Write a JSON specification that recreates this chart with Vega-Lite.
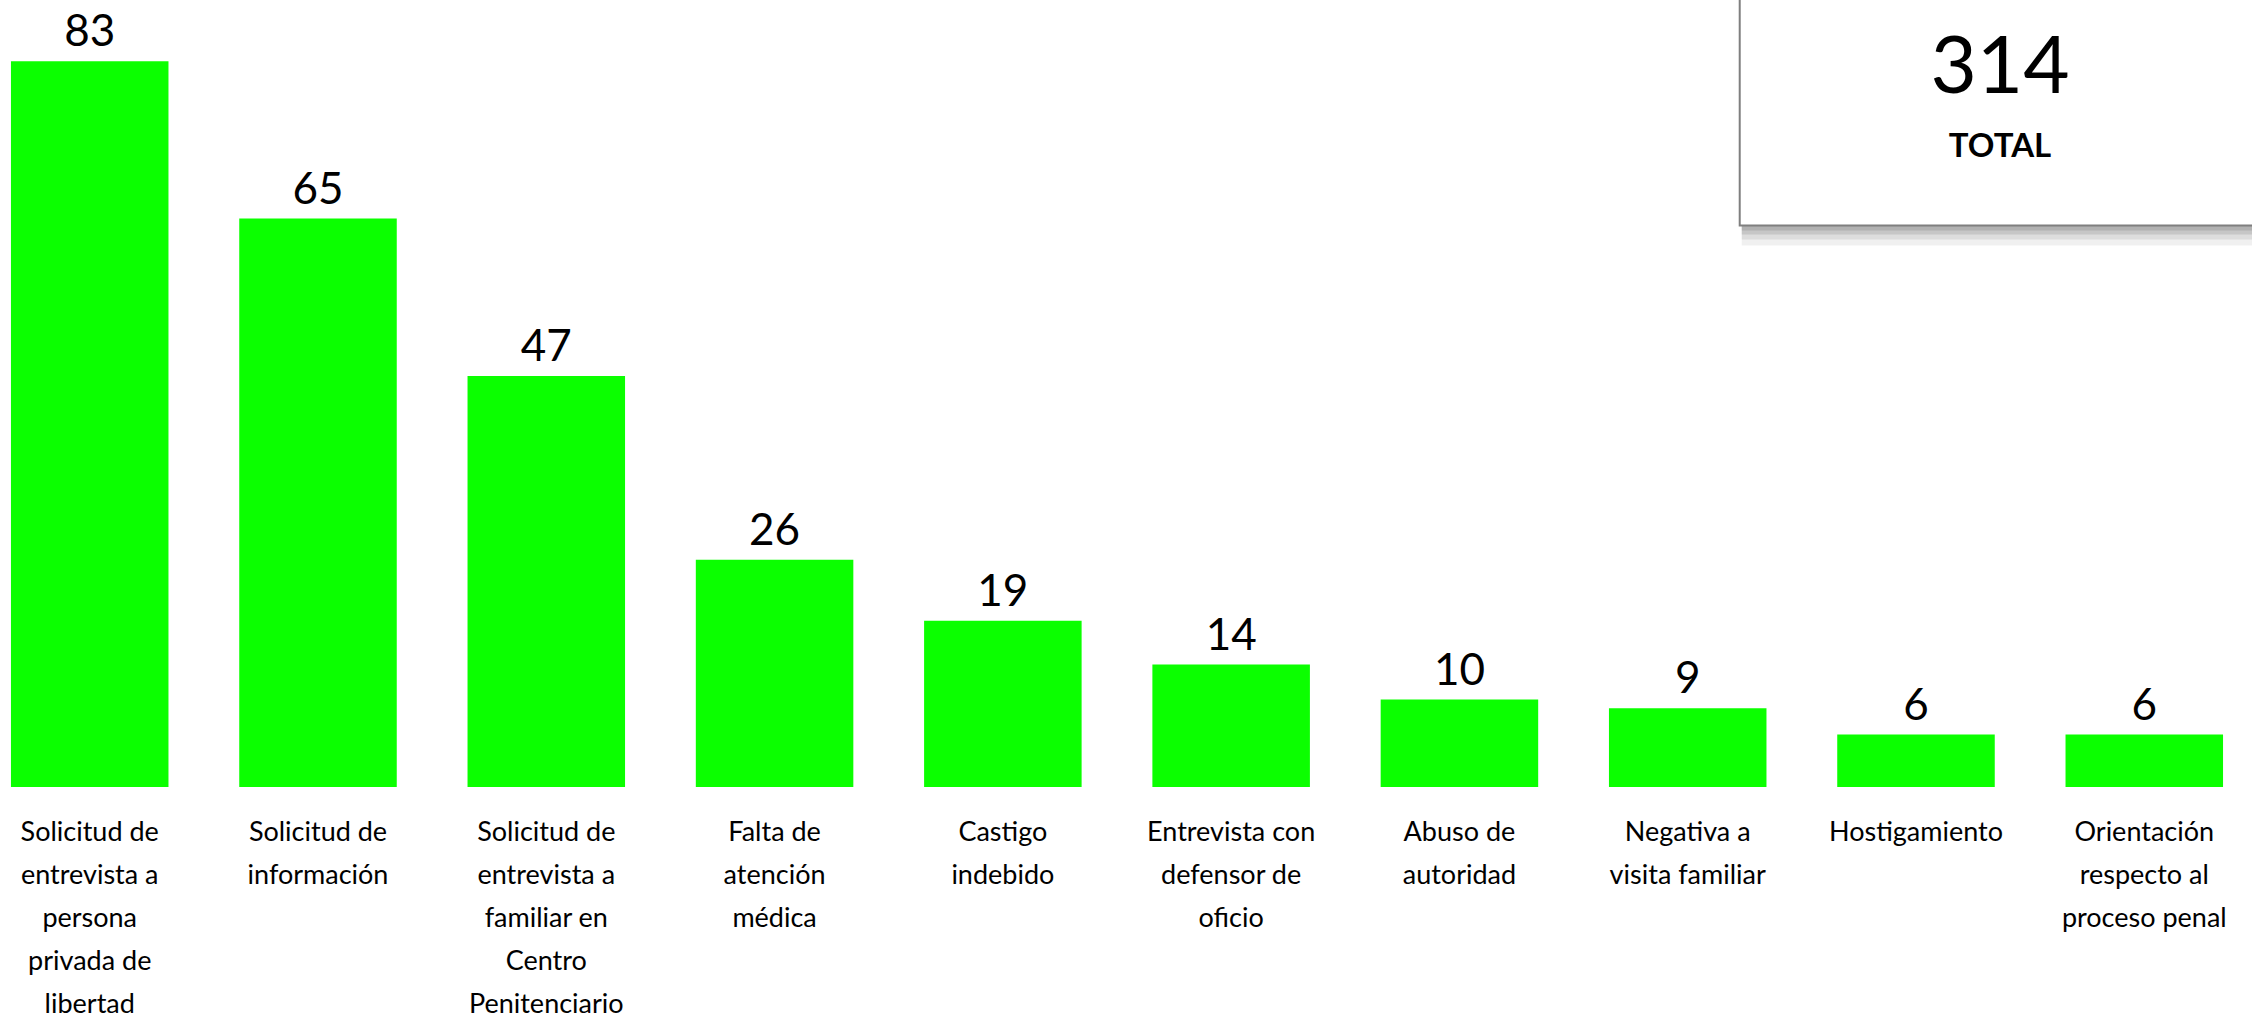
{
  "$schema": "https://vega.github.io/schema/vega-lite/v6.json",
  "autosize": {"type": "none"},
  "padding": {"left": 0, "top": 0, "right": 18, "bottom": 232},
  "width": 2234,
  "height": 787,
  "background": "white",
  "config": {"view": {"stroke": null}, "font": "Lato"},
  "datasets": {
    "quejas": [
      {"categoria": "Solicitud de\nentrevista a\npersona\nprivada de\nlibertad", "casos": 83},
      {"categoria": "Solicitud de\ninformación", "casos": 65},
      {"categoria": "Solicitud de\nentrevista a\nfamiliar en\nCentro\nPenitenciario", "casos": 47},
      {"categoria": "Falta de\natención\nmédica", "casos": 26},
      {"categoria": "Castigo\nindebido", "casos": 19},
      {"categoria": "Entrevista con\ndefensor de\noficio", "casos": 14},
      {"categoria": "Abuso de\nautoridad", "casos": 10},
      {"categoria": "Negativa a\nvisita familiar", "casos": 9},
      {"categoria": "Hostigamiento", "casos": 6},
      {"categoria": "Orientación\nrespecto al\nproceso penal", "casos": 6}
    ],
    "resumen": [{"total": 314, "etiqueta": "TOTAL"}]
  },
  "layer": [
    {
      "data": {"name": "quejas"},
      "mark": {"type": "bar", "color": "#0BFF00"},
      "encoding": {
        "x": {
          "field": "categoria", "type": "nominal", "sort": null,
          "scale": {"paddingInner": 0.31, "paddingOuter": 0.048},
          "axis": {
            "title": null, "domain": false, "ticks": false, "labelAngle": 0,
            "labelFont": "Lato", "labelFontSize": 27, "labelColor": "black",
            "labelLineHeight": 43, "labelPadding": 32, "labelBaseline": "top",
            "labelExpr": "split(datum.label, '\\n')", "labelLimit": 0
          }
        },
        "y": {
          "field": "casos", "type": "quantitative",
          "scale": {"domain": [0, 90], "nice": false},
          "axis": null
        }
      }
    },
    {
      "data": {"name": "quejas"},
      "mark": {"type": "text", "font": "Lato", "fontSize": 44, "baseline": "alphabetic", "dy": -15, "color": "black"},
      "encoding": {
        "x": {"field": "categoria", "type": "nominal", "sort": null},
        "y": {"field": "casos", "type": "quantitative"},
        "text": {"field": "casos", "type": "quantitative"}
      }
    },
    {
      "data": {"name": "resumen"},
      "mark": {"type": "rect", "color": "black", "opacity": 0.06, "y2Offset": 20, "xOffset": 54, "x2Offset": 150},
      "encoding": {
        "x": {"datum": "Negativa a\nvisita familiar", "type": "nominal"},
        "x2": {"datum": "Orientación\nrespecto al\nproceso penal"},
        "y": {"datum": 100, "type": "quantitative"},
        "y2": {"datum": 64.2}
      }
    },
    {
      "data": {"name": "resumen"},
      "mark": {"type": "rect", "color": "black", "opacity": 0.08, "y2Offset": 14, "xOffset": 54, "x2Offset": 150},
      "encoding": {
        "x": {"datum": "Negativa a\nvisita familiar", "type": "nominal"},
        "x2": {"datum": "Orientación\nrespecto al\nproceso penal"},
        "y": {"datum": 100, "type": "quantitative"},
        "y2": {"datum": 64.2}
      }
    },
    {
      "data": {"name": "resumen"},
      "mark": {"type": "rect", "color": "black", "opacity": 0.1, "y2Offset": 9, "xOffset": 54, "x2Offset": 150},
      "encoding": {
        "x": {"datum": "Negativa a\nvisita familiar", "type": "nominal"},
        "x2": {"datum": "Orientación\nrespecto al\nproceso penal"},
        "y": {"datum": 100, "type": "quantitative"},
        "y2": {"datum": 64.2}
      }
    },
    {
      "data": {"name": "resumen"},
      "mark": {"type": "rect", "color": "black", "opacity": 0.1, "y2Offset": 5, "xOffset": 54, "x2Offset": 150},
      "encoding": {
        "x": {"datum": "Negativa a\nvisita familiar", "type": "nominal"},
        "x2": {"datum": "Orientación\nrespecto al\nproceso penal"},
        "y": {"datum": 100, "type": "quantitative"},
        "y2": {"datum": 64.2}
      }
    },
    {
      "data": {"name": "resumen"},
      "mark": {"type": "rect", "fill": "white", "stroke": "#7f7f7f", "strokeWidth": 2, "xOffset": 52, "x2Offset": 150},
      "encoding": {
        "x": {"datum": "Negativa a\nvisita familiar", "type": "nominal"},
        "x2": {"datum": "Orientación\nrespecto al\nproceso penal"},
        "y": {"datum": 100, "type": "quantitative"},
        "y2": {"datum": 64.2}
      }
    },
    {
      "data": {"name": "resumen"},
      "mark": {"type": "text", "font": "Lato", "fontSize": 80, "baseline": "alphabetic", "color": "black", "dx": 84},
      "encoding": {
        "x": {"datum": "Hostigamiento", "type": "nominal"},
        "y": {"datum": 79.4, "type": "quantitative"},
        "text": {"field": "total", "type": "quantitative"}
      }
    },
    {
      "data": {"name": "resumen"},
      "mark": {"type": "text", "font": "Lato", "fontSize": 33, "fontWeight": "bold", "baseline": "alphabetic", "color": "black", "dx": 84},
      "encoding": {
        "x": {"datum": "Hostigamiento", "type": "nominal"},
        "y": {"datum": 72.05, "type": "quantitative"},
        "text": {"field": "etiqueta", "type": "nominal"}
      }
    }
  ]
}
